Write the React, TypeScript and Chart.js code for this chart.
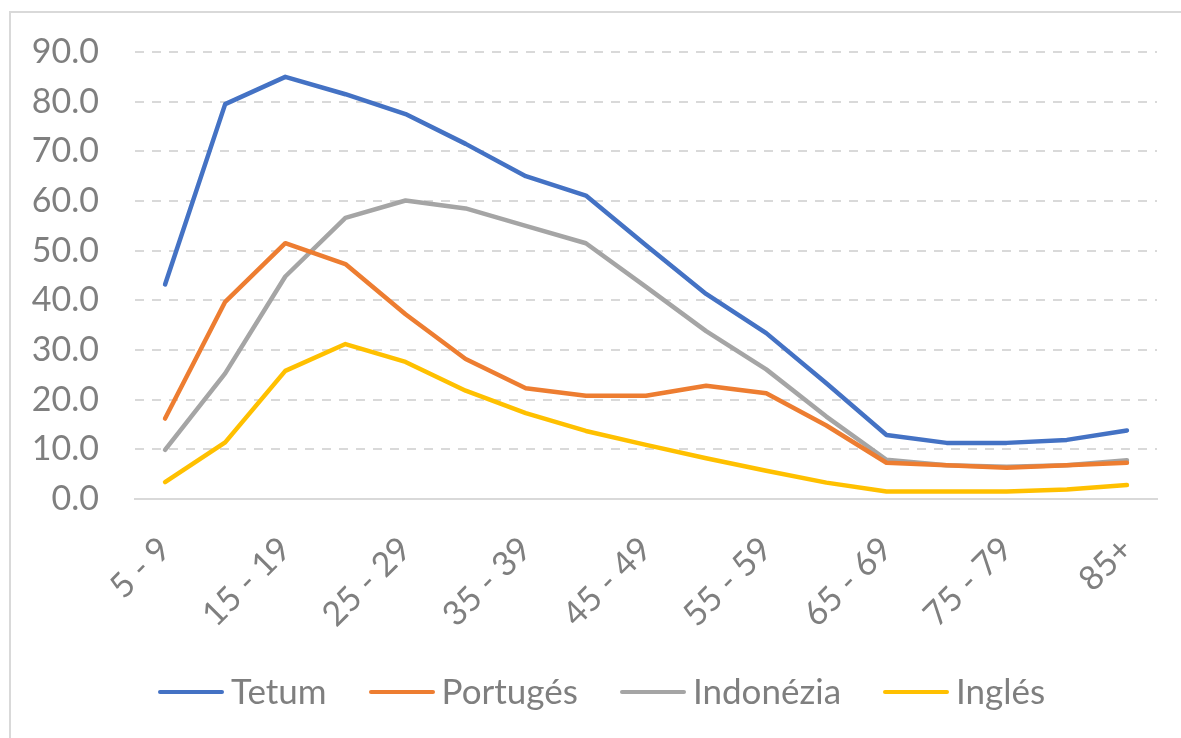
import React, { useEffect, useRef } from "react";
import { Chart, registerables } from "chart.js";

Chart.register(...registerables);

const categories = [
  "5 - 9", "10 - 14", "15 - 19", "20 - 24", "25 - 29", "30 - 34", "35 - 39",
  "40 - 44", "45 - 49", "50 - 54", "55 - 59", "60 - 64", "65 - 69", "70 - 74",
  "75 - 79", "80 - 84", "85+",
];
const tetum = [43.2, 79.5, 85.0, 81.5, 77.5, 71.5, 65.0, 61.1, 51.1, 41.3, 33.4, 23.3, 12.9, 11.3, 11.3, 11.9, 13.8];
const portuges = [16.2, 39.7, 51.5, 47.3, 37.2, 28.2, 22.3, 20.8, 20.8, 22.8, 21.3, 14.8, 7.3, 6.8, 6.3, 6.8, 7.3];
const indonezia = [9.9, 25.3, 44.8, 56.6, 60.1, 58.5, 55.0, 51.5, 42.7, 33.8, 26.1, 16.6, 7.9, 6.8, 6.5, 6.8, 7.8];
const ingles = [3.4, 11.4, 25.8, 31.2, 27.6, 21.8, 17.3, 13.7, 10.9, 8.2, 5.7, 3.3, 1.5, 1.5, 1.5, 1.9, 2.8];
const seriesNames = ["Tetum", "Portugés", "Indonézia", "Inglés"];
const seriesColors = ["#4472C4", "#ED7D31", "#A5A5A5", "#FFC000"];
const yTicks = [0, 10, 20, 30, 40, 50, 60, 70, 80, 90];

const FONT = "Lato, 'Open Sans', sans-serif";
const TEXT = "#7f7f7f";

export default function App() {
  const ref = useRef<HTMLCanvasElement | null>(null);

  useEffect(() => {
    if (!ref.current) return;
    const values = [tetum, portuges, indonezia, ingles];
    const chart = new Chart(ref.current, {
      type: "line",
      data: {
        labels: categories,
        datasets: values.map((v, i) => ({
          label: seriesNames[i],
          data: v,
          borderColor: seriesColors[i],
          backgroundColor: seriesColors[i],
          borderWidth: 4.5,
          pointRadius: 0,
          pointHoverRadius: 0,
          tension: 0,
          borderCapStyle: "round" as const,
          borderJoinStyle: "round" as const,
          fill: false,
        })),
      },
      options: {
        responsive: false,
        animation: false,
        layout: { padding: { left: 0, right: 24, top: 52, bottom: 0 } },
        plugins: {
          legend: { display: false },
          tooltip: { enabled: false },
        },
        scales: {
          x: {
            offset: true,
            grid: { display: false, drawTicks: false },
            border: { display: true, color: "#d9d9d9", width: 2 },
            ticks: {
              autoSkip: false,
              minRotation: 45,
              maxRotation: 45,
              padding: 30,
              color: TEXT,
              font: { family: FONT, size: 34 },
              callback: (_v: any, i: number) => (i % 2 === 0 ? categories[i] : ""),
            },
            afterFit: (s: any) => {
              s.height = 239;
              s.paddingLeft = 0;
              s.paddingRight = 0;
            },
          },
          y: {
            min: yTicks[0],
            max: yTicks[yTicks.length - 1],
            afterBuildTicks: (s: any) => {
              s.ticks = yTicks.map((v) => ({ value: v }));
            },
            grid: {
              drawTicks: false,
              color: (c: any) => (c.tick && c.tick.value === 0 ? "rgba(0,0,0,0)" : "#d9d9d9"),
              lineWidth: 2,
            },
            border: { display: false, dash: [9, 8] },
            ticks: {
              padding: 36,
              color: TEXT,
              font: { family: FONT, size: 34 },
              callback: (v: any) => Number(v).toFixed(1),
            },
            afterFit: (s: any) => {
              s.width = 135;
              s.paddingTop = 0;
              s.paddingBottom = 0;
            },
          },
        },
      },
    });
    return () => chart.destroy();
  }, []);

  return (
    <div
      style={{
        position: "absolute",
        left: 0,
        top: 0,
        width: 1181,
        height: 738,
        overflow: "hidden",
        background: "#fff",
      }}
    >
      <div
        style={{
          position: "absolute",
          left: 9,
          top: 11,
          width: 1300,
          height: 900,
          borderTop: "2px solid #d9d9d9",
          borderLeft: "2px solid #d9d9d9",
        }}
      />
      <canvas ref={ref} width={1181} height={738} style={{ position: "absolute", left: 0, top: 0 }} />
      <div
        style={{
          position: "absolute",
          left: 158,
          top: 669,
          display: "flex",
          alignItems: "center",
          fontFamily: FONT,
          fontSize: 35,
          lineHeight: "42px",
          color: TEXT,
          whiteSpace: "nowrap",
        }}
      >
        {seriesNames.map((n, i) => (
          <div key={n} style={{ display: "flex", alignItems: "center", marginRight: 42 }}>
            <div
              style={{
                width: 66,
                height: 4,
                borderRadius: 2,
                background: seriesColors[i],
                marginRight: 7,
                marginTop: 4,
              }}
            />
            <span>{n}</span>
          </div>
        ))}
      </div>
    </div>
  );
}
